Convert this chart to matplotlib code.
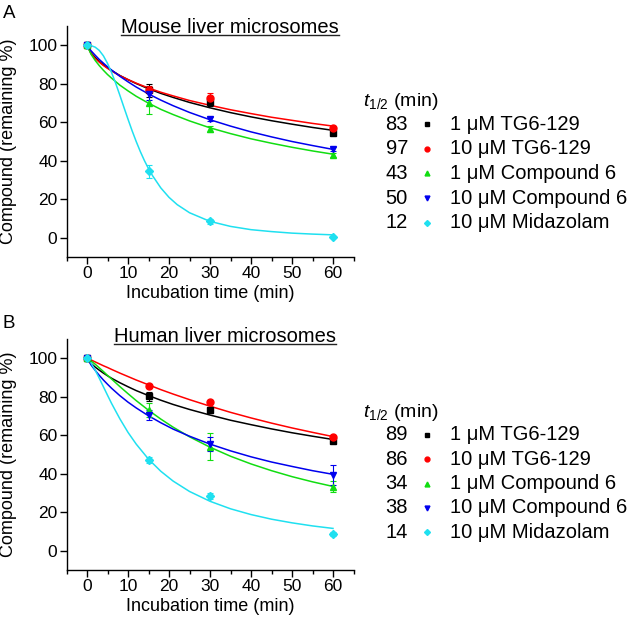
import matplotlib
matplotlib.use('Agg')
import matplotlib.pyplot as plt
from matplotlib.ticker import MultipleLocator

plt.rcParams['font.family'] = ['Liberation Sans', 'DejaVu Sans']
plt.rcParams['mathtext.fontset'] = 'custom'
plt.rcParams['mathtext.rm'] = 'Liberation Sans'
plt.rcParams['mathtext.it'] = 'Liberation Sans:italic'

# sampled time points and measured means / errors (remaining %)
time_pts = [0, 15, 30, 60]
labels = ['1 μM TG6-129', '10 μM TG6-129', '1 μM Compound 6',
          '10 μM Compound 6', '10 μM Midazolam']
colors = ['black', '#ff0000', '#11dd11', '#0000ee', '#1fe0f0']
markers = ['s', 'o', '^', 'v', 'D']

mouse_tg1 = [100, 76.5, 70.3, 54.6]
mouse_tg10 = [100, 77.0, 72.5, 57.0]
mouse_c6_1 = [100, 70.0, 56.5, 43.0]
mouse_c6_10 = [100, 74.5, 61.5, 46.0]
mouse_mid = [100, 34.5, 8.5, 0.5]
mouse_err = [[0, 3.5, 2.0, 1.0], [0, 2.0, 2.8, 1.0], [0, 5.5, 1.5, 1.0],
             [0, 3.0, 1.0, 1.0], [0, 3.5, 1.2, 0.5]]
mouse_thalf = ['83', '97', '43', '50', '12']

human_tg1 = [100, 80.2, 73.0, 57.0]
human_tg10 = [100, 85.8, 77.5, 59.0]
human_c6_1 = [100, 73.0, 54.0, 33.2]
human_c6_10 = [100, 70.5, 55.5, 39.5]
human_mid = [100, 47.0, 28.5, 8.7]
human_err = [[0, 2.5, 1.5, 1.0], [0, 1.0, 1.0, 0.8], [0, 3.5, 7.0, 2.8],
             [0, 2.5, 3.5, 5.2], [0, 1.5, 1.5, 1.0]]
human_thalf = ['89', '86', '34', '38', '14']

# fitted curves
fit_t = [0, 1, 2, 3, 4, 5, 6, 8, 10, 12, 15, 18, 21, 25, 30, 35, 40, 45, 50, 55, 60]
fit_t_mid = [0, 1, 2, 3, 4, 5, 6, 7, 8, 9, 10, 11, 12, 13, 14, 15, 16, 18, 20, 22,
             25, 30, 35, 40, 45, 50, 55, 60]

mouse_fit_tg1 = [100, 96.0, 93.6, 91.6, 89.8, 88.3, 86.9, 84.3, 82.1, 80.1, 77.4,
                 75.0, 72.9, 70.3, 67.5, 65.0, 62.8, 60.8, 59.0, 57.3, 55.8]
mouse_fit_tg10 = [100, 95.6, 93.1, 91.2, 89.5, 88.0, 86.6, 84.2, 82.2, 80.3, 77.8,
                  75.6, 73.7, 71.3, 68.8, 66.5, 64.5, 62.6, 61.0, 59.4, 58.0]
mouse_fit_c6_1 = [100, 95.3, 92.1, 89.4, 87.0, 84.8, 82.9, 79.3, 76.3, 73.5, 69.9,
                  66.7, 64.0, 60.7, 57.1, 54.1, 51.4, 49.1, 47.0, 45.1, 43.4]
mouse_fit_c6_10 = [100, 97.1, 94.8, 92.6, 90.7, 88.8, 87.1, 83.9, 81.0, 78.3, 74.7,
                   71.5, 68.6, 65.1, 61.3, 58.0, 55.0, 52.4, 50.0, 47.9, 45.9]
mouse_fit_mid = [100, 99.8, 99.0, 97.3, 94.5, 90.6, 85.8, 80.2, 74.1, 67.8, 61.6,
                 55.6, 50.0, 44.8, 40.1, 35.9, 32.2, 25.9, 21.0, 17.2, 13.0, 8.5,
                 5.9, 4.2, 3.2, 2.4, 1.9, 1.5]

human_fit_tg1 = [100, 97.3, 95.4, 93.8, 92.3, 90.9, 89.6, 87.3, 85.2, 83.2, 80.6,
                 78.2, 76.0, 73.4, 70.5, 67.8, 65.5, 63.3, 61.3, 59.5, 57.8]
human_fit_tg10 = [100, 99.1, 98.1, 97.1, 96.1, 95.2, 94.2, 92.3, 90.5, 88.7, 86.2,
                  83.7, 81.4, 78.5, 75.1, 71.9, 69.0, 66.3, 63.8, 61.5, 59.3]
human_fit_c6_1 = [100, 98.6, 96.9, 95.0, 93.1, 91.1, 89.2, 85.3, 81.6, 78.0, 73.0,
                  68.4, 64.2, 59.2, 53.8, 49.1, 45.1, 41.6, 38.5, 35.8, 33.4]
human_fit_c6_10 = [100, 96.5, 93.7, 91.1, 88.7, 86.5, 84.4, 80.6, 77.2, 74.2, 70.1,
                   66.5, 63.2, 59.5, 55.4, 51.9, 48.8, 46.1, 43.8, 41.6, 39.7]
human_fit_mid = [100, 97.5, 93.8, 89.6, 85.2, 80.8, 76.5, 68.6, 61.5, 55.4, 47.6,
                 41.3, 36.2, 30.8, 25.7, 21.8, 18.8, 16.4, 14.5, 12.9, 11.6]

W, H = 628, 621
fig = plt.figure(figsize=(W / 100, H / 100), dpi=100)

# overlay in pixel coords for panel letters, titles and the t1/2 legend
ov = fig.add_axes([0, 0, 1, 1])
ov.set_xlim(0, W)
ov.set_ylim(H, 0)
ov.axis('off')


def panel(bottom_px, means, errs, fits, fit_ts, thalf, title, title_x, title_base,
          letter, letter_base, head_base, row0, row_step):
    ax = fig.add_axes([66.5 / W, 1 - bottom_px / H, 287 / W, 231 / H])
    for i in range(5):
        ax.plot(fit_ts[i], fits[i], color=colors[i], lw=1.1, zorder=2)
        ax.errorbar(time_pts, means[i], yerr=errs[i], fmt=markers[i], color=colors[i],
                    ms=4.5 if markers[i] == 'D' else 5, capsize=2, elinewidth=0.8,
                    capthick=0.8, zorder=3)
    ax.set_xlim(-5, 65)
    ax.set_ylim(-10, 110)
    ax.set_xticks(range(0, 61, 10))
    ax.set_yticks(range(0, 101, 20))
    ax.xaxis.set_minor_locator(MultipleLocator(5))
    for s in ['top', 'right']:
        ax.spines[s].set_visible(False)
    for s in ['left', 'bottom']:
        ax.spines[s].set_linewidth(1.0)
    ax.tick_params(which='major', direction='out', length=5, width=1.0,
                   labelsize=12.5, pad=1.5)
    ax.tick_params(which='minor', direction='out', length=3, width=1.0)
    ax.set_xlabel('Incubation time (min)', fontsize=13)
    ax.set_ylabel('Compound (remaining %)', fontsize=13)
    ax.xaxis.set_label_coords(0.5, -0.12)
    ax.yaxis.set_label_coords(-0.172, 0.5)

    ov.text(3, letter_base, letter, fontsize=13.5, ha='left', va='baseline')
    t = ov.text(title_x, title_base, title, fontsize=14.5, ha='center', va='baseline')
    fig.canvas.draw()
    bb = t.get_window_extent().transformed(ov.transData.inverted())
    ov.plot([bb.x0, bb.x1], [title_base + 2, title_base + 2], color='#222222', lw=1.0)

    ov.text(363, head_base, r'$\mathit{t}_{\mathrm{1/2}}$ (min)', fontsize=14,
            ha='left', va='baseline')
    for i in range(5):
        y = row0 + i * row_step
        ov.text(408, y, thalf[i], fontsize=14.5, ha='right', va='center')
        ov.plot([427], [y], marker=markers[i], color=colors[i],
                ms=3 if markers[i] == 'D' else 3.5, ls='none')
        ov.text(450, y, labels[i], fontsize=14.5, ha='left', va='center')
    return ax


panel(257, [mouse_tg1, mouse_tg10, mouse_c6_1, mouse_c6_10, mouse_mid], mouse_err,
      [mouse_fit_tg1, mouse_fit_tg10, mouse_fit_c6_1, mouse_fit_c6_10, mouse_fit_mid],
      [fit_t, fit_t, fit_t, fit_t, fit_t_mid], mouse_thalf,
      'Mouse liver microsomes', 230, 32.7, 'A', 18.3, 106, 124, 24.7)
panel(570, [human_tg1, human_tg10, human_c6_1, human_c6_10, human_mid], human_err,
      [human_fit_tg1, human_fit_tg10, human_fit_c6_1, human_fit_c6_10, human_fit_mid],
      [fit_t] * 5, human_thalf,
      'Human liver microsomes', 225, 341.7, 'B', 328.3, 417, 435, 24.3)

ov.set_zorder(5)
fig.savefig('out.png', dpi=100)
